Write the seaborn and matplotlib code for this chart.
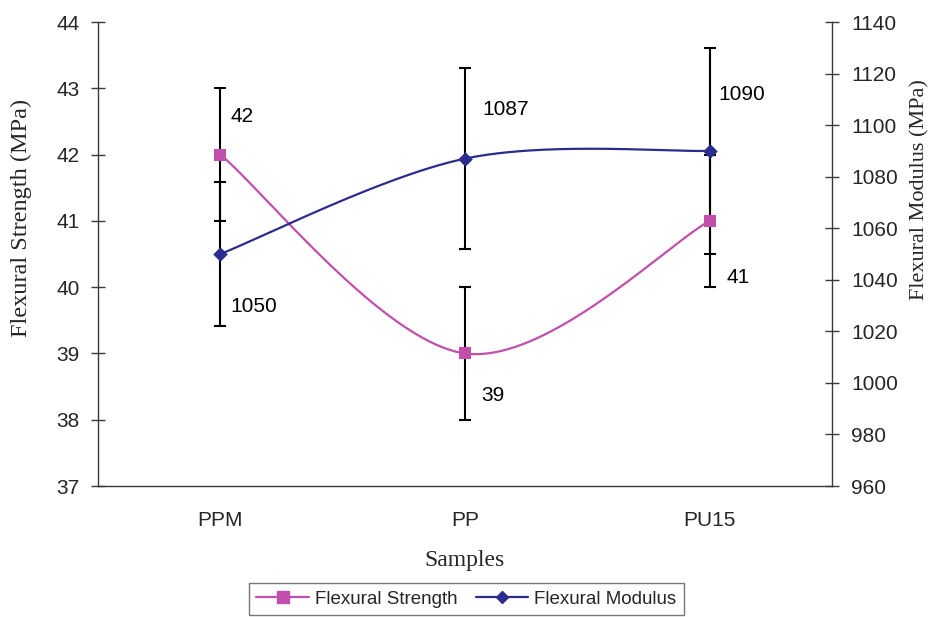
import numpy as np
import pandas as pd
import matplotlib
matplotlib.use('Agg')
import matplotlib.pyplot as plt
import seaborn as sns
from matplotlib.lines import Line2D

# ---- data ----
samples = ['PPM', 'PP', 'PU15']
strength = [42, 39, 41]
strength_err = [1, 1, 1]
modulus = [1050, 1087, 1090]
modulus_err = [28, 35, 40]
strength_labels = ['42', '39', '41']
modulus_labels = ['1050', '1087', '1090']
left_ticks = [37, 38, 39, 40, 41, 42, 43, 44]
right_ticks = [960, 980, 1000, 1020, 1040, 1060, 1080, 1100, 1120, 1140]

# label offsets in pixels (styling)
strength_off = [(10, 38), (16, -42), (17, -57)]
modulus_off = [(10, -53), (17, 49), (9, 56)]

PINK = '#C24FAB'
NAVY = '#2B2C8E'
SPINE = '#3a3a3a'

sns.set_style('white')
plt.rcParams['font.family'] = ['Liberation Sans', 'DejaVu Sans']


def smooth(xs, ys, n=80):
    P = np.column_stack([xs, ys]).astype(float)
    P = np.vstack([P[0], P, P[-1]])
    out = []
    for i in range(1, len(P) - 2):
        p0, p1, p2, p3 = P[i - 1], P[i], P[i + 1], P[i + 2]
        t = np.linspace(0, 1, n)[:, None]
        seg = 0.5 * ((2 * p1) + (-p0 + p2) * t + (2 * p0 - 5 * p1 + 4 * p2 - p3) * t ** 2
                     + (-p0 + 3 * p1 - 3 * p2 + p3) * t ** 3)
        out.append(seg if i == len(P) - 3 else seg[:-1])
    return np.vstack(out)


xpos = np.arange(len(samples))

fig = plt.figure(figsize=(9.29, 6.17), dpi=100)
ax = fig.add_axes([98 / 929, 1 - 486 / 617, 734 / 929, 464 / 617])
ax2 = ax.twinx()
ax.set_zorder(2)
ax.patch.set_visible(False)
ax2.set_zorder(1)

ax.set_xlim(-0.5, 2.5)
ax.set_ylim(37, 44)
ax2.set_ylim(960, 1140)

# error bars
ax.errorbar(xpos, strength, yerr=strength_err, fmt='none', ecolor='black',
            elinewidth=1.5, capsize=4.5, capthick=1.5, zorder=1)
ax2.errorbar(xpos, modulus, yerr=modulus_err, fmt='none', ecolor='black',
             elinewidth=1.5, capsize=4.5, capthick=1.5, zorder=1)

# smooth curves
cs = smooth(xpos, strength)
cm = smooth(xpos, modulus)
df_s = pd.DataFrame({'x': cs[:, 0], 'y': cs[:, 1]})
df_m = pd.DataFrame({'x': cm[:, 0], 'y': cm[:, 1]})
sns.lineplot(data=df_s, x='x', y='y', ax=ax, color=PINK, linewidth=1.6,
             sort=False, estimator=None, legend=False, zorder=3)
sns.lineplot(data=df_m, x='x', y='y', ax=ax, color=NAVY, linewidth=1.6,
             sort=False, estimator=None, legend=False, zorder=3,
             transform=ax2.transData)

# markers
sns.scatterplot(x=xpos, y=strength, ax=ax, marker='s', s=75, color=PINK,
                edgecolor=PINK, linewidth=0, zorder=4, legend=False)
sns.scatterplot(x=xpos, y=modulus, ax=ax, marker='D', s=55, color=NAVY,
                edgecolor=NAVY, linewidth=0, zorder=4, legend=False,
                transform=ax2.transData)

ax.set_xlim(-0.5, 2.5)
ax.set_ylim(37, 44)
ax2.set_ylim(960, 1140)

# value labels
for x, y, lab, (dx, dy) in zip(xpos, strength, strength_labels, strength_off):
    ax.annotate(lab, (x, y), xytext=(dx, dy), textcoords='offset pixels',
                ha='left', va='center', fontsize=15, color='black', zorder=5)
for x, y, lab, (dx, dy) in zip(xpos, modulus, modulus_labels, modulus_off):
    ax.annotate(lab, (x, y), xycoords=ax2.transData, xytext=(dx, dy),
                textcoords='offset pixels', ha='left', va='center',
                fontsize=15, color='black', zorder=5)

# axes styling
ax.set_xticks(xpos)
ax.set_xticklabels(samples)
ax.set_xticks([0.5, 1.5], minor=True)
ax.tick_params(axis='x', which='major', length=0, pad=18, labelsize=15)
ax.tick_params(axis='x', which='minor', length=8, width=1, color=SPINE,
               direction='out')
ax.set_yticks(left_ticks)
ax.tick_params(axis='y', direction='inout', length=10, width=1, color=SPINE,
               labelsize=15, pad=8)
ax2.set_yticks(right_ticks)
ax2.tick_params(axis='y', direction='inout', length=10, width=1, color=SPINE,
                labelsize=15, pad=9)

for a in (ax, ax2):
    a.spines['top'].set_visible(False)
    for s in a.spines.values():
        s.set_color(SPINE)
        s.set_linewidth(1)
ax.spines['right'].set_visible(False)
ax2.spines['left'].set_visible(False)
ax2.spines['bottom'].set_visible(False)
ax.grid(False)
ax2.grid(False)

serif = ['Liberation Serif', 'DejaVu Serif']
ax.set_ylabel('Flexural Strength (MPa)', family=serif, fontsize=17.5)
ax.yaxis.set_label_coords(-0.104, 0.578)
ax.yaxis.label.set_va('center')
ax2.set_ylabel('Flexural Modulus (MPa)', family=serif, fontsize=16,
               rotation=90)
ax2.yaxis.set_label_coords(1.12, 0.638)
ax2.yaxis.label.set_va('center')
ax.set_xlabel('Samples', family=serif, fontsize=17)
ax.xaxis.set_label_coords(0.5, -0.16)
ax.xaxis.label.set_va('center')

handles = [
    Line2D([], [], color=PINK, lw=1.6, marker='s', markersize=8,
           markeredgecolor=PINK),
    Line2D([], [], color=NAVY, lw=1.6, marker='D', markersize=6.5,
           markeredgecolor=NAVY),
]
leg = fig.legend(handles, ['Flexural Strength', 'Flexural Modulus'],
                 loc='lower center', bbox_to_anchor=(0.502, 0.003), ncol=2,
                 frameon=True, fancybox=False, edgecolor='#555555',
                 fontsize=13.5, handlelength=2.8, columnspacing=1.0,
                 borderpad=0.4, handletextpad=0.3, borderaxespad=0)
leg.get_frame().set_linewidth(1)

fig.savefig('out.png', dpi=100)
